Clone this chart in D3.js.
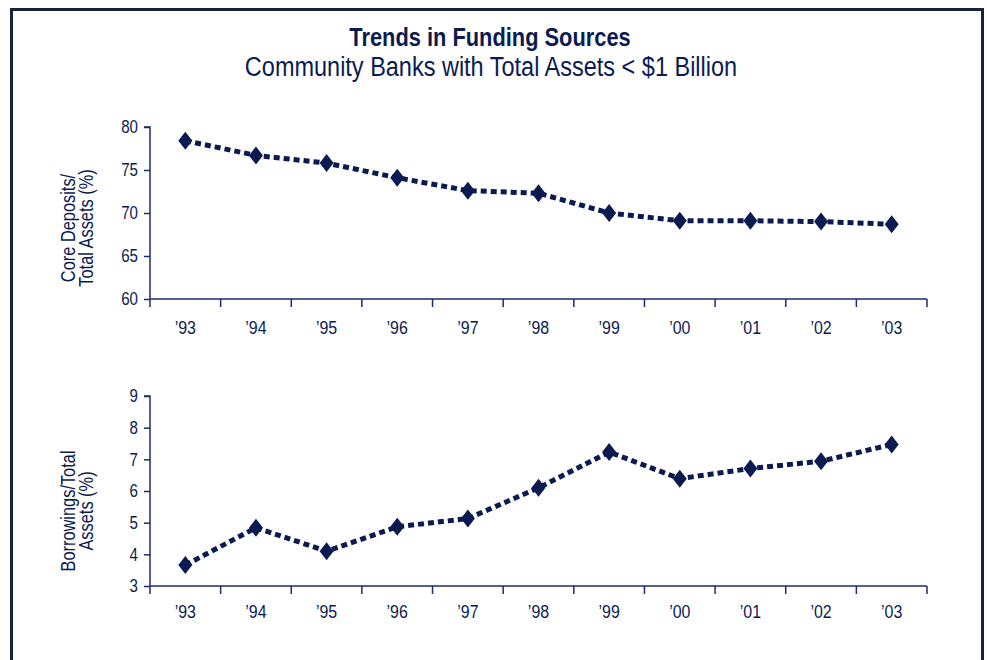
<!DOCTYPE html>
<html><head><meta charset="utf-8">
<script src="https://cdn.jsdelivr.net/npm/d3@7"></script>
<style>
body{margin:0;background:#fff;}
svg{display:block;font-family:"Liberation Sans","Arial",sans-serif;}
</style></head><body>
<svg id="c" width="987" height="660"></svg>
<script>
const years = ["’93","’94","’95","’96","’97","’98","’99","’00","’01","’02","’03"];
const coreDeposits = [78.4,76.7,75.8,74.1,72.6,72.3,70.0,69.1,69.1,69.0,68.7];
const borrowings = [3.66,4.84,4.1,4.87,5.13,6.1,7.23,6.39,6.71,6.94,7.47];
const coreTicks = [60,65,70,75,80];
const borrowTicks = [3,4,5,6,7,8,9];

const navy = "#0b1b52";
const axisCol = "#1c2b6b";
const SX = 0.84;
const svg = d3.select("#c");

// frame
svg.append("path").attr("d","M11.5,672 V9.5 H982.5 V672")
  .attr("fill","none").attr("stroke","#16233f").attr("stroke-width",3);

function ctext(px,py,str,size,weight,sx){
  return svg.append("text").attr("transform",`translate(${px},${py}) scale(${sx||SX},1)`)
    .attr("text-anchor","middle").attr("font-size",size)
    .attr("font-weight",weight||"normal").attr("fill",navy).text(str);
}
ctext(490,46,"Trends in Funding Sources",26,"bold");
ctext(491,75.5,"Community Banks with Total Assets < $1 Billion",27,"normal",0.87);

const x = d3.scaleBand().domain(years).range([150,927]);

function panel(values, domain, ticks, yTop, yBot, labelLines, labelY, tickLabelY){
  const y = d3.scaleLinear().domain(domain).range([yBot,yTop]);
  const g = svg.append("g");
  // y axis
  const ya = g.append("g").attr("transform","translate(150,0)")
    .call(d3.axisLeft(y).tickValues(ticks).tickFormat(d3.format("d")).tickSize(6).tickPadding(6));
  ya.select(".domain").attr("d",`M-6,${yTop}H0V${yBot}`);
  ya.selectAll("path,line").attr("stroke",axisCol).attr("stroke-width",1.5);
  ya.selectAll("text").attr("font-size",18).attr("fill",navy)
    .attr("transform",function(){const tx=+d3.select(this).attr("x");return `translate(${tx},0) scale(${SX},1) translate(${-tx},0)`;});
  // x axis with ticks at band boundaries
  const xa = g.append("g").attr("transform",`translate(0,${yBot})`);
  xa.append("line").attr("x1",150).attr("x2",927).attr("y1",0).attr("y2",0)
    .attr("stroke",axisCol).attr("stroke-width",1.5);
  const bounds = years.map(d=>x(d)).concat([x.range()[1]]);
  xa.selectAll("line.t").data(bounds).join("line").attr("class","t")
    .attr("x1",d=>d).attr("x2",d=>d).attr("y1",0).attr("y2",8)
    .attr("stroke",axisCol).attr("stroke-width",1.5);
  xa.selectAll("text").data(years).join("text")
    .attr("transform",d=>`translate(${x(d)+x.bandwidth()/2},${tickLabelY-yBot}) scale(${SX},1)`)
    .attr("text-anchor","middle").attr("font-size",19).attr("fill",navy).text(d=>d);
  // label
  const lab = g.append("text").attr("transform",`translate(0,${labelY}) rotate(-90) scale(${SX},1)`)
    .attr("text-anchor","middle").attr("font-size",19.5).attr("fill",navy);
  labelLines.forEach((t,i)=>lab.append("tspan").attr("x",0).attr("y",75+i*18.5).text(t));
  // line
  const cx = d=>x(d)+x.bandwidth()/2;
  const line = d3.line().x((d,i)=>cx(years[i])).y(d=>y(d));
  g.append("path").datum(values).attr("d",line).attr("fill","none")
    .attr("stroke",navy).attr("stroke-width",5).attr("stroke-dasharray","6,4");
  g.selectAll("path.m").data(values).join("path").attr("class","m")
    .attr("d","M0,-9 L7,0 L0,9 L-7,0 Z")
    .attr("transform",(d,i)=>`translate(${cx(years[i])},${y(d)})`)
    .attr("fill",navy);
}

panel(coreDeposits,[60,80],coreTicks,127,299,["Core Deposits/","Total Assets (%)"],228,334);
panel(borrowings,[3,9],borrowTicks,396,586,["Borrowings/Total","Assets (%)"],511,618);
</script>
</body></html>
